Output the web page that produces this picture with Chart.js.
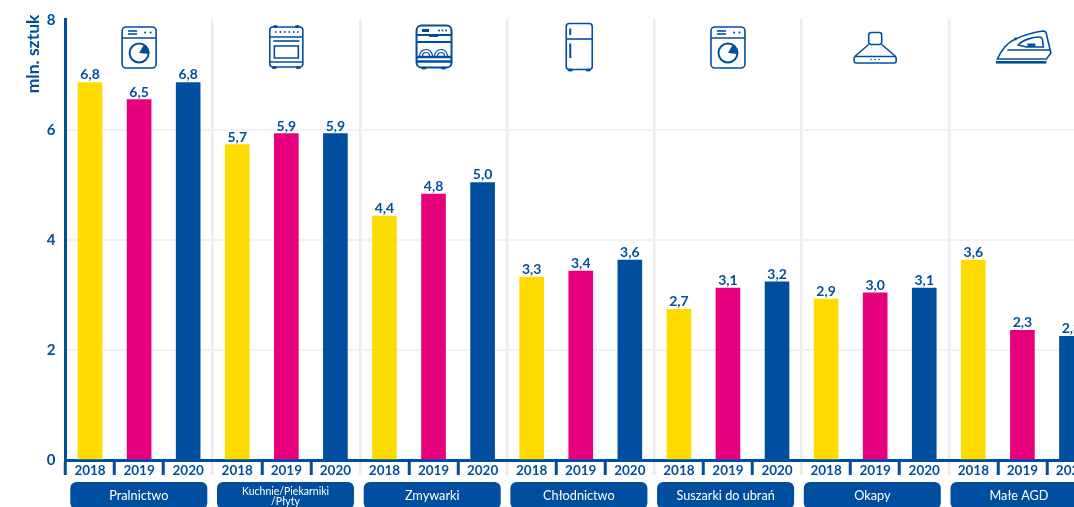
<!DOCTYPE html>
<html lang="pl">
<head>
<meta charset="utf-8">
<title>AGD</title>
<script src="https://cdn.jsdelivr.net/npm/chart.js@4/dist/chart.umd.min.js"></script>
<style>
  html, body { margin: 0; padding: 0; background: #fff; width: 1074px; height: 507px; overflow: hidden; }
  canvas { display: block; }
</style>
</head>
<body>
<canvas id="wykres" width="1096" height="507"></canvas>
<script>
// =========================================================
// DANE
// =========================================================
const lata = ['2018', '2019', '2020'];
const grupy = ['Pralnictwo', 'Kuchnie/Piekarniki\n/Płyty', 'Zmywarki', 'Chłodnictwo', 'Suszarki do ubrań', 'Okapy', 'Małe AGD'];
const wartosci2018 = [6.87, 5.74, 4.44, 3.33, 2.74, 2.93, 3.64];
const wartosci2019 = [6.56, 5.94, 4.84, 3.44, 3.13, 3.04, 2.36];
const wartosci2020 = [6.87, 5.94, 5.05, 3.64, 3.24, 3.13, 2.25];
const etykiety2018 = ['6,8', '5,7', '4,4', '3,3', '2,7', '2,9', '3,6'];
const etykiety2019 = ['6,5', '5,9', '4,8', '3,4', '3,1', '3,0', '2,3'];
const etykiety2020 = ['6,8', '5,9', '5,0', '3,6', '3,2', '3,1', '2,3'];
const tickiY = [0, 2, 4, 6, 8];

const NIEBIESKI = '#004f9f';
const KOLORY_LAT = ['#ffdc00', '#e6007e', '#004f9f'];
const SZARY = '#ececec';
const FONT = 'Lato, "Open Sans", sans-serif';

// rozwinięcie do jednej serii: 3 słupki na grupę
const kategorie = [], wartosci = [], etykiety = [], kolory = [];
grupy.forEach((g, i) => {
    [wartosci2018, wartosci2019, wartosci2020].forEach((w, r) => {
        kategorie.push(lata[r]);
        wartosci.push(w[i]);
        etykiety.push([etykiety2018, etykiety2019, etykiety2020][r][i]);
        kolory.push(KOLORY_LAT[r]);
    });
});

// =========================================================
// IKONY (współrzędne względem środka grupy)
// =========================================================
function prostokat(ctx, x, y, w, h, r) {
    ctx.beginPath();
    ctx.roundRect(x, y, w, h, r);
    ctx.stroke();
}
function linia(ctx, x1, y1, x2, y2) {
    ctx.beginPath();
    ctx.moveTo(x1, y1);
    ctx.lineTo(x2, y2);
    ctx.stroke();
}
function kropki(ctx, xs, y, r) {
    xs.forEach(x => {
        ctx.beginPath();
        ctx.arc(x, y, r, 0, Math.PI * 2);
        ctx.fill();
    });
}
function nozki(ctx, xs, y) {
    xs.forEach(x => {
        ctx.beginPath();
        ctx.ellipse(x, y, 2.6, 1.6, 0, 0, Math.PI * 2);
        ctx.fill();
    });
}

function pralka(ctx) {
    prostokat(ctx, -17, 27, 34, 41, 4);
    linia(ctx, -17, 38, 17, 38);
    linia(ctx, -11, 31, -2, 31);
    linia(ctx, -11, 34, -2, 34);
    kropki(ctx, [6, 11.5], 32.5, 1.1);
    ctx.lineWidth = 2;
    ctx.beginPath();
    ctx.arc(0, 53, 9.5, 0, Math.PI * 2);
    ctx.stroke();
    ctx.beginPath();
    ctx.moveTo(0, 53);
    ctx.arc(0, 53, 9.5, -Math.PI / 3, 0.1);
    ctx.closePath();
    ctx.fill();
}
function kuchnia(ctx) {
    prostokat(ctx, -16.5, 27, 33, 40, 3);
    linia(ctx, -16.5, 37, 16.5, 37);
    linia(ctx, -13, 41, 13, 41);
    prostokat(ctx, -12, 46, 24, 12, 0);
    linia(ctx, -16.5, 62, 16.5, 62);
    kropki(ctx, [-10.5, -6, -1.5, 3, 7.5, 11.5], 32, 0.9);
    nozki(ctx, [-11, 11], 26.5);
    nozki(ctx, [-12, 12], 67.5);
}
function zmywarka(ctx) {
    ctx.lineWidth = 2;
    prostokat(ctx, -17, 25.5, 35, 42, 5);
    linia(ctx, -17, 35, 18, 35);
    linia(ctx, -17, 42, 18, 42);
    ctx.lineWidth = 2.4;
    linia(ctx, -17, 57, 18, 57);
    linia(ctx, -17, 61.5, 18, 61.5);
    ctx.fillRect(-11.5, 29, 7, 3);
    ctx.fillRect(-4.5, 35, 9, 2);
    kropki(ctx, [5.5, 9, 12.5], 30.5, 1);
    ctx.lineWidth = 1.2;
    [-7.5, 7.5].forEach(x => {
        [6.5, 3.5].forEach(r => {
            ctx.beginPath();
            ctx.arc(x, 56, r, Math.PI, 0);
            ctx.stroke();
        });
    });
    nozki(ctx, [-9.5, 10], 68);
}
function lodowka(ctx) {
    prostokat(ctx, -14.5, 23.5, 26, 46, 3);
    linia(ctx, -14.5, 39, 11.5, 39);
    ctx.lineWidth = 2;
    linia(ctx, -10.5, 28.5, -10.5, 35);
    linia(ctx, -10.5, 43.5, -10.5, 58);
    nozki(ctx, [-10.5, 7.5], 70);
}
function okap(ctx) {
    prostokat(ctx, -6.5, 32.5, 13, 12, 2.5);
    linia(ctx, -6.5, 44.5, -20.5, 56.5);
    linia(ctx, 6.5, 44.5, 20.5, 56.5);
    prostokat(ctx, -21, 56.5, 42, 6.5, 2);
    kropki(ctx, [-4, 0, 4], 59.5, 0.8);
}
function zelazko(ctx) {
    ctx.beginPath();
    ctx.moveTo(-25, 59);
    ctx.bezierCurveTo(-20, 48, -14, 42, -7, 39);
    ctx.bezierCurveTo(2, 35, 12, 32, 21, 31);
    ctx.quadraticCurveTo(23.5, 31, 24, 34);
    ctx.lineTo(28.5, 53);
    ctx.lineTo(24, 59);
    ctx.closePath();
    ctx.stroke();
    linia(ctx, -15, 50, 28, 50);
    ctx.beginPath();
    ctx.moveTo(-4, 45);
    ctx.bezierCurveTo(0, 40, 10, 37, 17, 37);
    ctx.quadraticCurveTo(19, 37, 20, 39);
    ctx.lineTo(21, 47);
    ctx.lineTo(4, 47);
    ctx.closePath();
    ctx.stroke();
    ctx.fillRect(5, 43.5, 8, 3.5);
    ctx.fillRect(-26.5, 61, 50.5, 2.6);
    kropki(ctx, [-7], 39, 1.4);
}
const ikony = [pralka, kuchnia, zmywarka, lodowka, pralka, okap, zelazko];

// =========================================================
// WTYCZKI
// =========================================================
const dodatki = {
    id: 'dodatki',
    afterDatasetsDraw(chart) {
        const ctx = chart.ctx;
        const meta = chart.getDatasetMeta(0);
        const osX = chart.scales.x;

        // etykiety nad słupkami
        ctx.save();
        ctx.font = 'bold 14px ' + FONT;
        ctx.fillStyle = NIEBIESKI;
        ctx.textAlign = 'center';
        ctx.textBaseline = 'alphabetic';
        meta.data.forEach((bar, i) => ctx.fillText(etykiety[i], bar.x, bar.y - 3));
        ctx.restore();

        // ikony
        ikony.forEach((rysuj, i) => {
            ctx.save();
            ctx.translate(osX.getPixelForValue(i * 3 + 1), 0);
            ctx.strokeStyle = NIEBIESKI;
            ctx.fillStyle = NIEBIESKI;
            ctx.lineWidth = 1.6;
            rysuj(ctx);
            ctx.restore();
        });

        // opis osi Y
        ctx.save();
        ctx.translate(33, 54);
        ctx.rotate(-Math.PI / 2);
        ctx.font = 'bold 17.5px ' + FONT;
        ctx.fillStyle = NIEBIESKI;
        ctx.textAlign = 'center';
        ctx.textBaseline = 'middle';
        ctx.fillText('mln. sztuk', 0, 0);
        ctx.restore();

        // plakietki z nazwami grup
        grupy.forEach((g, i) => {
            const lewo = 70.3 + i * 146.7;
            ctx.save();
            ctx.fillStyle = NIEBIESKI;
            ctx.beginPath();
            ctx.roundRect(lewo, 482, 137, 27, 6);
            ctx.fill();
            ctx.fillStyle = '#fff';
            ctx.textAlign = 'center';
            ctx.textBaseline = 'middle';
            const linie = g.split('\n');
            if (linie.length > 1) {
                ctx.font = '10.5px ' + FONT;
                linie.forEach((t, k) => ctx.fillText(t, lewo + 68.5, 491.5 + k * 10.5));
            } else {
                ctx.font = '12.7px ' + FONT;
                ctx.fillText(g, lewo + 68.5, 495.5);
            }
            ctx.restore();
        });
    }
};

// =========================================================
// WYKRES
// =========================================================
new Chart(document.getElementById('wykres').getContext('2d'), {
    type: 'bar',
    data: {
        labels: kategorie,
        datasets: [{ data: wartosci, backgroundColor: kolory, borderWidth: 0, barThickness: 24 }]
    },
    options: {
        responsive: false,
        animation: false,
        layout: { padding: { top: 17, left: 0, right: 0, bottom: 0 } },
        plugins: { legend: { display: false }, tooltip: { enabled: false } },
        scales: {
            x: {
                afterFit(s) { s.height = 47; },
                border: { color: NIEBIESKI, width: 3 },
                grid: {
                    offset: true,
                    tickLength: 15,
                    lineWidth: 2.5,
                    color: c => (c.index % 3 === 0 && c.index > 0 ? SZARY : 'transparent'),
                    tickColor: c => (c.index % 3 === 0 && c.index > 0 ? SZARY : NIEBIESKI),
                    tickWidth: 3
                },
                ticks: {
                    autoSkip: false,
                    maxRotation: 0,
                    padding: -12,
                    color: NIEBIESKI,
                    font: { family: FONT, size: 13.5, weight: 'bold' }
                }
            },
            y: {
                min: 0,
                max: 8.025,
                afterFit(s) { s.width = 65.5; },
                afterBuildTicks(s) { s.ticks = tickiY.map(v => ({ value: v })); },
                border: { color: NIEBIESKI, width: 3 },
                grid: {
                    drawTicks: false,
                    lineWidth: 2,
                    color: c => (c.tick.value > 0 && c.tick.value < 8 ? '#f2f2f2' : 'transparent')
                },
                ticks: {
                    padding: 10,
                    color: NIEBIESKI,
                    font: { family: FONT, size: 15, weight: 'bold' }
                }
            }
        }
    },
    plugins: [dodatki]
});
</script>
</body>
</html>
